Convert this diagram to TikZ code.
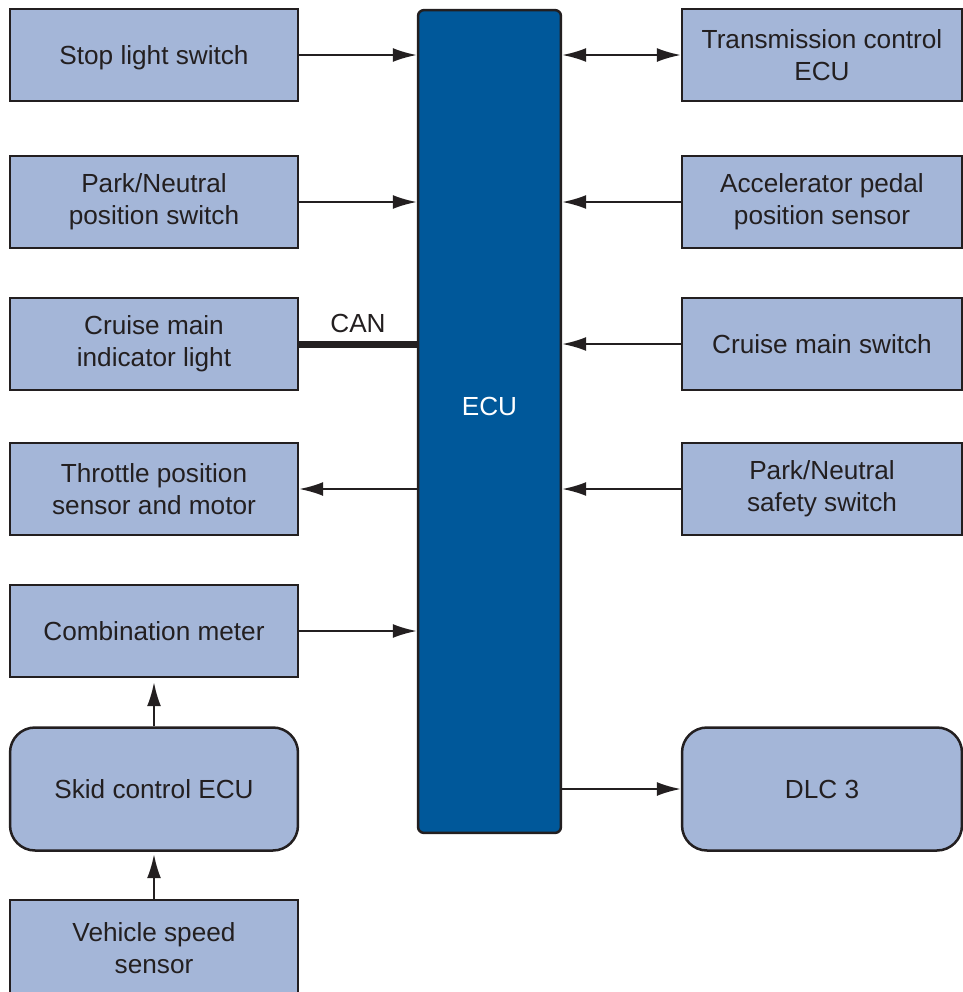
\documentclass[tikz,border=0pt]{standalone}
\usepackage{fontspec}
\setmainfont{Liberation Sans}
\usepackage{tikz}
\usetikzlibrary{arrows.meta}
\definecolor{boxblue}{HTML}{A4B6D8}
\definecolor{ecublue}{HTML}{00589A}
\definecolor{edge}{HTML}{231F20}
\newcommand{\boxfont}{\fontsize{14.9}{18.2}\selectfont}

\begin{document}
\begin{tikzpicture}[x=0.02cm,y=-0.02cm,
  lbox/.style={draw=edge,fill=boxblue,line width=0.05cm,minimum width=5.76cm,minimum height=1.84cm,
    inner sep=0pt,align=center,text=edge,font=\boxfont},
  rbox/.style={lbox,minimum width=5.6cm},
  rnd/.style={rounded corners=0.5cm,minimum height=2.46cm},
  arr/.style={draw=edge,line width=0.04cm,-{Latex[length=0.48cm,width=0.28cm]}},
  barr/.style={arr,{Latex[length=0.48cm,width=0.28cm]}-{Latex[length=0.48cm,width=0.28cm]}}]
  \useasboundingbox (0,0) rectangle (963,992);
  \node[draw=edge,fill=ecublue,line width=0.05cm,rounded corners=0.12cm,minimum width=2.86cm,minimum height=16.46cm,
    label={[text=white,font=\boxfont,yshift=0.3cm]center:ECU}] (ecu) at (489.5,421.5) {};
  \node[lbox,text depth=0pt] (stop) at (154,55) {Stop light switch};
  \node[lbox] (pnpos) at (154,202) {Park/Neutral\\position switch};
  \node[lbox] (indic) at (154,344) {Cruise main\\indicator light};
  \node[lbox] (thr) at (154,489) {Throttle position\\sensor and motor};
  \node[lbox] (combo) at (154,631) {Combination meter};
  \node[lbox,rnd,text depth=0pt] (skid) at (154,789) {Skid control ECU};
  \node[lbox,minimum height=1.92cm] (speed) at (154,948) {Vehicle speed\\sensor};
  \node[rbox] (trans) at (822,55) {Transmission control\\ECU};
  \node[rbox] (accel) at (822,202) {Accelerator pedal\\position sensor};
  \node[rbox] (cmsw) at (822,344) {Cruise main switch};
  \node[rbox] (pnsafe) at (822,489) {Park/Neutral\\safety switch};
  \node[rbox,rnd] (dlc) at (822,789) {DLC 3};
  \draw[arr] (stop.east) -- (stop.east -| ecu.west);
  \draw[arr] (pnpos.east) -- (pnpos.east -| ecu.west);
  \draw[draw=edge,line width=0.14cm] (indic.east) -- node[above,font=\boxfont,text=edge,yshift=1pt] {CAN} (indic.east -| ecu.west);
  \draw[arr] (thr.east -| ecu.west) -- (thr.east);
  \draw[arr] (combo.east) -- (combo.east -| ecu.west);
  \draw[arr,shorten >=0.08cm] (skid.north) -- (combo.south);
  \draw[arr,shorten >=0.05cm] (speed.north) -- (skid.south);
  \draw[barr] (trans.west -| ecu.east) -- (trans.west);
  \draw[arr] (accel.west) -- (accel.west -| ecu.east);
  \draw[arr] (cmsw.west) -- (cmsw.west -| ecu.east);
  \draw[arr] (pnsafe.west) -- (pnsafe.west -| ecu.east);
  \draw[arr] (dlc.west -| ecu.east) -- (dlc.west);
\end{tikzpicture}
\end{document}
